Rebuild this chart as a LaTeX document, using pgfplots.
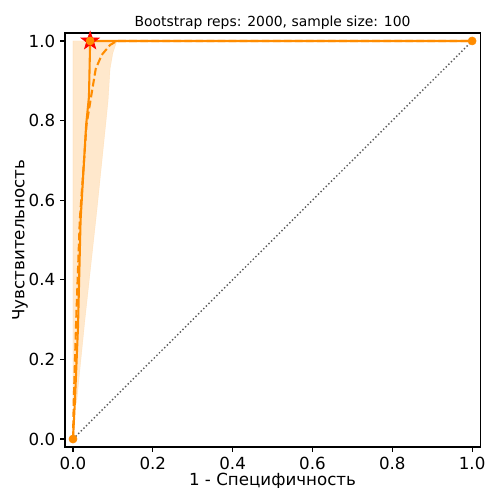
\documentclass[border=0pt]{standalone}
\usepackage{fontspec}
\setmainfont{DejaVu Sans}
\usepackage{pgfplots}
\pgfplotsset{compat=1.18}
\usetikzlibrary{calc}
\definecolor{roc}{RGB}{255,140,0}
\definecolor{starred}{RGB}{255,0,0}

% filled five-point star, like matplotlib's '*'
\pgfdeclareplotmark{fstar}{%
  \pgfpathmoveto{\pgfpointpolar{90}{\pgfplotmarksize}}%
  \pgfpathlineto{\pgfpointpolar{126}{0.4\pgfplotmarksize}}%
  \pgfpathlineto{\pgfpointpolar{162}{\pgfplotmarksize}}%
  \pgfpathlineto{\pgfpointpolar{198}{0.4\pgfplotmarksize}}%
  \pgfpathlineto{\pgfpointpolar{234}{\pgfplotmarksize}}%
  \pgfpathlineto{\pgfpointpolar{270}{0.4\pgfplotmarksize}}%
  \pgfpathlineto{\pgfpointpolar{306}{\pgfplotmarksize}}%
  \pgfpathlineto{\pgfpointpolar{342}{0.4\pgfplotmarksize}}%
  \pgfpathlineto{\pgfpointpolar{18}{\pgfplotmarksize}}%
  \pgfpathlineto{\pgfpointpolar{54}{0.4\pgfplotmarksize}}%
  \pgfpathclose
  \pgfusepathqfillstroke}

\begin{document}
\begin{tikzpicture}
\begin{axis}[
    scale only axis, width=298.8pt, height=298pt,
    xmin=-0.02, xmax=1.02, ymin=-0.02, ymax=1.02,
    xtick={0,0.2,0.4,0.6,0.8,1}, ytick={0,0.2,0.4,0.6,0.8,1},
    xticklabels={0.0,0.2,0.4,0.6,0.8,1.0},
    yticklabels={0.0,0.2,0.4,0.6,0.8,1.0},
    xtick pos=bottom, ytick pos=left,
    tick align=outside, major tick length=3.5pt,
    tick style={black, line width=0.8pt},
    axis line style={black, line width=0.8pt},
    tick label style={font=\fontsize{12}{14}\selectfont},
    title={Bootstrap reps: 2000, sample size: 100},
    title style={font=\fontsize{10}{12}\selectfont, at={(axis description cs:0.5,1)}, anchor=base, yshift=-1.5pt},
    xlabel={1 - Специфичность},
    ylabel={Чувствительность},
    xlabel style={font=\fontsize{12}{14}\selectfont, at={(axis description cs:0.5,-0.0822)}, anchor=center},
    ylabel style={font=\fontsize{12}{14}\selectfont, at={(axis description cs:-0.1084,0.5)}, anchor=center},
]
% bootstrap confidence band
\addplot[fill=roc, fill opacity=0.2, draw=roc, draw opacity=0.1] coordinates {
    (0,0.09) (0,1) (0.11,1) (0.1,0.97) (0.093,0.93) (0.088,0.85) (0.082,0.79)
    (0.06,0.575) (0.03,0.3) (0.009,0.09)} -- cycle;
% chance diagonal
\addplot[black!65, line width=1pt, dash pattern=on 1pt off 1.65pt] coordinates {(0,0) (1,1)};
% mean bootstrap curve
\addplot[roc, line width=1.5pt, dash pattern=on 5.55pt off 2.4pt] coordinates {
    (0,0) (0.002,0.1) (0.008,0.3) (0.017,0.55) (0.034,0.79) (0.047,0.87)
    (0.057,0.93) (0.072,0.965) (0.093,0.99) (0.11,1.0) (1,1)};
% observed ROC curve
\addplot[roc, line width=1.5pt] coordinates {
    (0,0) (0.005,0.1) (0.0125,0.28) (0.019,0.55) (0.033,0.79) (0.04,0.86)
    (0.043,1) (1,1)};
\addplot[only marks, mark=*, mark size=2.9pt, roc] coordinates {(0,0) (1,1)};
\addplot[only marks, mark=fstar, mark size=6.8pt, starred, line width=0.5pt] coordinates {(0.043,1)};
\addplot[only marks, mark=*, mark size=2.9pt, roc] coordinates {(0.043,1)};
\end{axis}
\pgfresetboundingbox
\path ($(current axis.south west)+(-46.8pt,-29.52pt)$) rectangle ($(current axis.north east)+(3.6pt,23.76pt)$);
\end{tikzpicture}
\end{document}
